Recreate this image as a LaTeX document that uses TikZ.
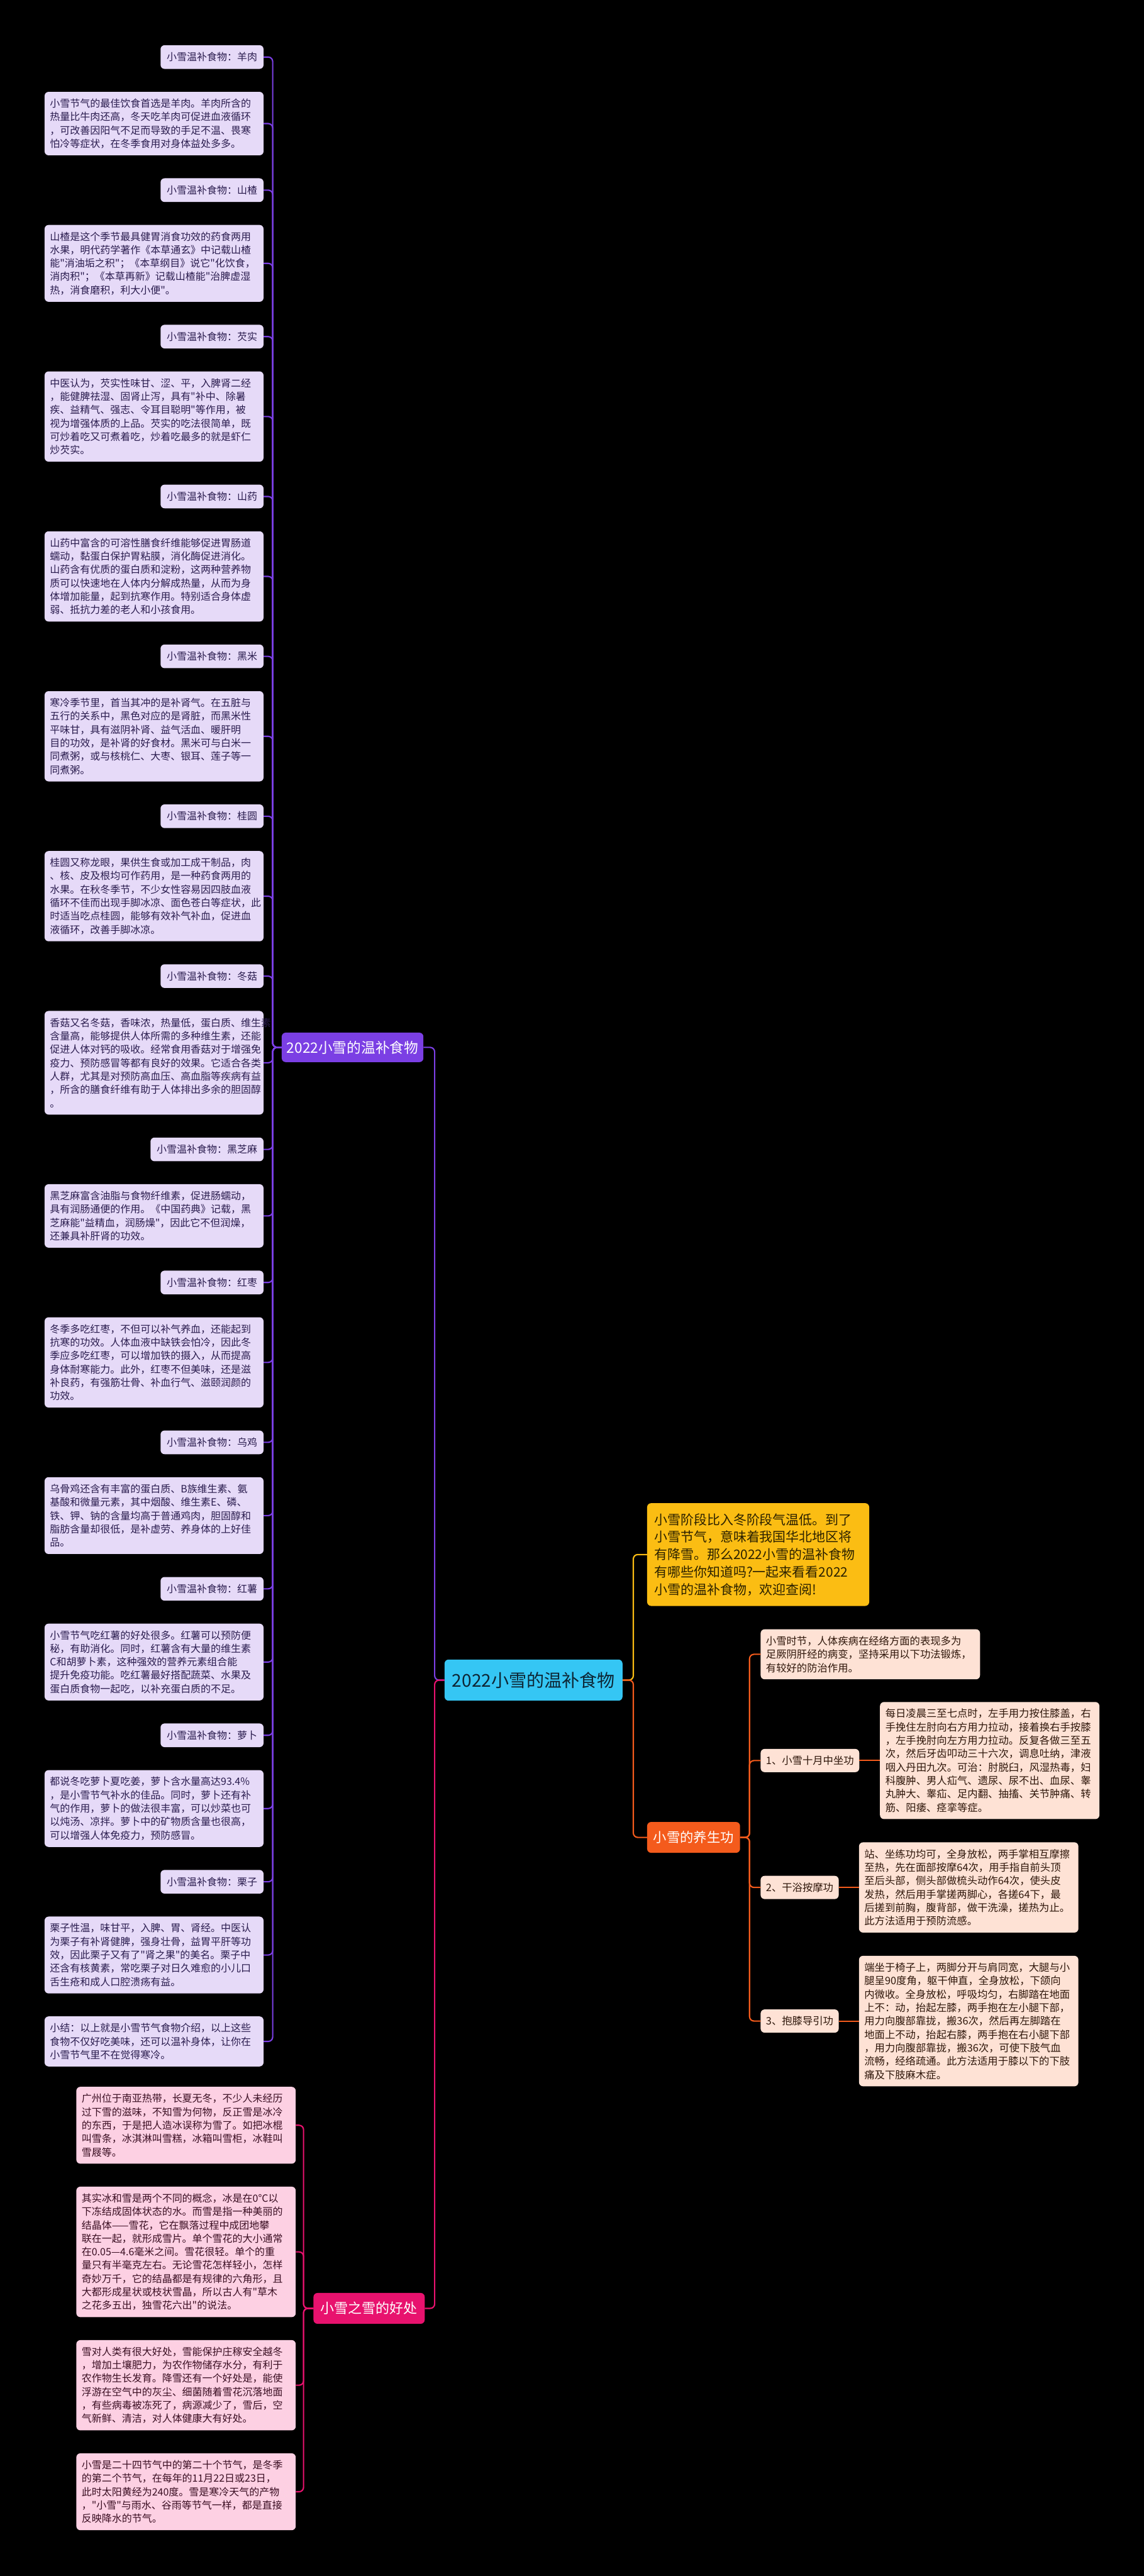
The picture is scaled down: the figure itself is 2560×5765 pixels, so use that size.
\documentclass[tikz,border=0pt]{standalone}
\usepackage{fontspec}
\newfontfamily\cjk{Noto Sans CJK SC}
\usetikzlibrary{positioning}
\definecolor{purplec}{HTML}{7B3FE4}
\definecolor{lavender}{HTML}{E6DAF8}
\definecolor{lavtext}{HTML}{2A1C4E}
\definecolor{pinkc}{HTML}{E8126E}
\definecolor{pinkbox}{HTML}{FDD0E3}
\definecolor{pinktext}{HTML}{3A0E22}
\definecolor{cyanc}{HTML}{35C6F4}
\definecolor{cyantext}{HTML}{0D2635}
\definecolor{amber}{HTML}{FBBD13}
\definecolor{ambertext}{HTML}{2B2100}
\definecolor{orangec}{HTML}{F45B1C}
\definecolor{peach}{HTML}{FEE2D5}
\definecolor{peachtext}{HTML}{2E160A}
\begin{document}
\begin{tikzpicture}[x=1pt, y=-1pt,
  box/.style={rounded corners=9pt, inner xsep=12pt, inner ysep=4pt},
  small/.style={font=\cjk\fontsize{22.5}{30}\selectfont},
  foodtag/.style={box, small, fill=lavender, text=lavtext, minimum height=53pt, inner xsep=14pt},
  fooddesc/.style={box, small, fill=lavender, text=lavtext, text width=466pt, align=left, minimum height={#1*30pt+22pt}},
  snowdesc/.style={box, small, fill=pinkbox, text=pinktext, text width=467pt, align=left, minimum height={#1*30pt+22pt}},
  gongtag/.style={box, font=\cjk\fontsize{23}{30}\selectfont, fill=peach, text=peachtext, minimum height=52pt},
  gongdesc/.style={box, font=\cjk\fontsize{23}{30}\selectfont, fill=peach, text=peachtext, text width=467pt, align=left, minimum height={#1*30pt+22pt}},
  wire/.style={line width=3pt, rounded corners=10pt}]
  \fill[black] (0,0) rectangle (2560,5765);

  \node[box, fill=cyanc, text=cyantext, font=\cjk\fontsize{39.5}{44}\selectfont, minimum height=92pt, inner xsep=17pt] (root) at (1194,3760) {2022小雪的温补食物};
  \node[box, fill=purplec, text=white, font=\cjk\fontsize{32}{36}\selectfont, minimum height=66pt, inner xsep=11pt] (food) at (789,2344) {2022小雪的温补食物};
  \node[box, fill=pinkc, text=white, font=\cjk\fontsize{31}{36}\selectfont, minimum height=69pt, inner xsep=16pt] (snow) at (826,5166) {小雪之雪的好处};
  \node[box, fill=amber, text=ambertext, font=\cjk\fontsize{29.5}{39}\selectfont, text width=465pt, align=left, minimum height=230pt, inner xsep=16pt, anchor=west] (intro) at (1448,3479) {小雪阶段比入冬阶段气温低。到了\\小雪节气，意味着我国华北地区将\\有降雪。那么2022小雪的温补食物\\有哪些你知道吗?一起来看看2022\\小雪的温补食物，欢迎查阅!};
  \node[box, fill=orangec, text=white, font=\cjk\fontsize{30}{36}\selectfont, minimum height=69pt, inner xsep=14pt, anchor=west] (yang) at (1448,4112) {小雪的养生功};

  \node[foodtag, anchor=north east] (l1) at (590,101) {小雪温补食物：羊肉};
  \node[fooddesc=4, below left=51pt and 0pt of l1.south east] (d1) {小雪节气的最佳饮食首选是羊肉。羊肉所含的\\热量比牛肉还高，冬天吃羊肉可促进血液循环\\，可改善因阳气不足而导致的手足不温、畏寒\\怕冷等症状，在冬季食用对身体益处多多。};
  \node[foodtag, below left=51pt and 0pt of d1.south east] (l2) {小雪温补食物：山楂};
  \node[fooddesc=5, below left=51pt and 0pt of l2.south east] (d2) {山楂是这个季节最具健胃消食功效的药食两用\\水果，明代药学著作《本草通玄》中记载山楂\\能"消油垢之积"；《本草纲目》说它"化饮食，\\消肉积"；《本草再新》记载山楂能"治脾虚湿\\热，消食磨积，利大小便"。};
  \node[foodtag, below left=51pt and 0pt of d2.south east] (l3) {小雪温补食物：芡实};
  \node[fooddesc=6, below left=51pt and 0pt of l3.south east] (d3) {中医认为，芡实性味甘、涩、平，入脾肾二经\\，能健脾祛湿、固肾止泻，具有"补中、除暑\\疾、益精气、强志、令耳目聪明"等作用，被\\视为增强体质的上品。芡实的吃法很简单，既\\可炒着吃又可煮着吃，炒着吃最多的就是虾仁\\炒芡实。};
  \node[foodtag, below left=51pt and 0pt of d3.south east] (l4) {小雪温补食物：山药};
  \node[fooddesc=6, below left=51pt and 0pt of l4.south east] (d4) {山药中富含的可溶性膳食纤维能够促进胃肠道\\蠕动，黏蛋白保护胃粘膜，消化酶促进消化。\\山药含有优质的蛋白质和淀粉，这两种营养物\\质可以快速地在人体内分解成热量，从而为身\\体增加能量，起到抗寒作用。特别适合身体虚\\弱、抵抗力差的老人和小孩食用。};
  \node[foodtag, below left=51pt and 0pt of d4.south east] (l5) {小雪温补食物：黑米};
  \node[fooddesc=6, below left=51pt and 0pt of l5.south east] (d5) {寒冷季节里，首当其冲的是补肾气。在五脏与\\五行的关系中，黑色对应的是肾脏，而黑米性\\平味甘，具有滋阴补肾、益气活血、暖肝明\\目的功效，是补肾的好食材。黑米可与白米一\\同煮粥，或与核桃仁、大枣、银耳、莲子等一\\同煮粥。};
  \node[foodtag, below left=51pt and 0pt of d5.south east] (l6) {小雪温补食物：桂圆};
  \node[fooddesc=6, below left=51pt and 0pt of l6.south east] (d6) {桂圆又称龙眼，果供生食或加工成干制品，肉\\、核、皮及根均可作药用，是一种药食两用的\\水果。在秋冬季节，不少女性容易因四肢血液\\循环不佳而出现手脚冰凉、面色苍白等症状，此\\时适当吃点桂圆，能够有效补气补血，促进血\\液循环，改善手脚冰凉。};
  \node[foodtag, below left=51pt and 0pt of d6.south east] (l7) {小雪温补食物：冬菇};
  \node[fooddesc=7, below left=51pt and 0pt of l7.south east] (d7) {香菇又名冬菇，香味浓，热量低，蛋白质、维生素\\含量高，能够提供人体所需的多种维生素，还能\\促进人体对钙的吸收。经常食用香菇对于增强免\\疫力、预防感冒等都有良好的效果。它适合各类\\人群，尤其是对预防高血压、高血脂等疾病有益\\，所含的膳食纤维有助于人体排出多余的胆固醇\\。};
  \node[foodtag, below left=51pt and 0pt of d7.south east] (l8) {小雪温补食物：黑芝麻};
  \node[fooddesc=4, below left=51pt and 0pt of l8.south east] (d8) {黑芝麻富含油脂与食物纤维素，促进肠蠕动，\\具有润肠通便的作用。《中国药典》记载，黑\\芝麻能"益精血，润肠燥"，因此它不但润燥，\\还兼具补肝肾的功效。};
  \node[foodtag, below left=51pt and 0pt of d8.south east] (l9) {小雪温补食物：红枣};
  \node[fooddesc=6, below left=51pt and 0pt of l9.south east] (d9) {冬季多吃红枣，不但可以补气养血，还能起到\\抗寒的功效。人体血液中缺铁会怕冷，因此冬\\季应多吃红枣，可以增加铁的摄入，从而提高\\身体耐寒能力。此外，红枣不但美味，还是滋\\补良药，有强筋壮骨、补血行气、滋颐润颜的\\功效。};
  \node[foodtag, below left=51pt and 0pt of d9.south east] (l10) {小雪温补食物：乌鸡};
  \node[fooddesc=5, below left=51pt and 0pt of l10.south east] (d10) {乌骨鸡还含有丰富的蛋白质、B族维生素、氨\\基酸和微量元素，其中烟酸、维生素E、磷、\\铁、钾、钠的含量均高于普通鸡肉，胆固醇和\\脂肪含量却很低，是补虚劳、养身体的上好佳\\品。};
  \node[foodtag, below left=51pt and 0pt of d10.south east] (l11) {小雪温补食物：红薯};
  \node[fooddesc=5, below left=51pt and 0pt of l11.south east] (d11) {小雪节气吃红薯的好处很多。红薯可以预防便\\秘，有助消化。同时，红薯含有大量的维生素\\C和胡萝卜素，这种强效的营养元素组合能\\提升免疫功能。吃红薯最好搭配蔬菜、水果及\\蛋白质食物一起吃，以补充蛋白质的不足。};
  \node[foodtag, below left=51pt and 0pt of d11.south east] (l12) {小雪温补食物：萝卜};
  \node[fooddesc=5, below left=51pt and 0pt of l12.south east] (d12) {都说冬吃萝卜夏吃姜，萝卜含水量高达93.4\%\\，是小雪节气补水的佳品。同时，萝卜还有补\\气的作用，萝卜的做法很丰富，可以炒菜也可\\以炖汤、凉拌。萝卜中的矿物质含量也很高，\\可以增强人体免疫力，预防感冒。};
  \node[foodtag, below left=51pt and 0pt of d12.south east] (l13) {小雪温补食物：栗子};
  \node[fooddesc=5, below left=51pt and 0pt of l13.south east] (d13) {栗子性温，味甘平，入脾、胃、肾经。中医认\\为栗子有补肾健脾，强身壮骨，益胃平肝等功\\效，因此栗子又有了"肾之果"的美名。栗子中\\还含有核黄素，常吃栗子对日久难愈的小儿口\\舌生疮和成人口腔溃疡有益。};
  \node[fooddesc=3, below left=51pt and 0pt of d13.south east] (d14) {小结：以上就是小雪节气食物介绍，以上这些\\食物不仅好吃美味，还可以温补身体，让你在\\小雪节气里不在觉得寒冷。};

  \node[snowdesc=5, anchor=north east] (p1) at (662,4670) {广州位于南亚热带，长夏无冬，不少人未经历\\过下雪的滋味，不知雪为何物，反正雪是冰冷\\的东西，于是把人造冰误称为雪了。如把冰棍\\叫雪条，冰淇淋叫雪糕，冰箱叫雪柜，冰鞋叫\\雪屐等。};
  \node[snowdesc=9, below left=51pt and 0pt of p1.south east] (p2) {其实冰和雪是两个不同的概念，冰是在0°C以\\下冻结成固体状态的水。而雪是指一种美丽的\\结晶体——雪花，它在飘落过程中成团地攀\\联在一起，就形成雪片。单个雪花的大小通常\\在0.05—4.6毫米之间。雪花很轻。单个的重\\量只有半毫克左右。无论雪花怎样轻小，怎样\\奇妙万千，它的结晶都是有规律的六角形，且\\大都形成星状或枝状雪晶，所以古人有"草木\\之花多五出，独雪花六出"的说法。};
  \node[snowdesc=6, below left=51pt and 0pt of p2.south east] (p3) {雪对人类有很大好处，雪能保护庄稼安全越冬\\，增加土壤肥力，为农作物储存水分，有利于\\农作物生长发育。降雪还有一个好处是，能使\\浮游在空气中的灰尘、细菌随着雪花沉落地面\\，有些病毒被冻死了，病源减少了，雪后，空\\气新鲜、清洁，对人体健康大有好处。};
  \node[snowdesc=5, below left=51pt and 0pt of p3.south east] (p4) {小雪是二十四节气中的第二十个节气，是冬季\\的第二个节气，在每年的11月22日或23日，\\此时太阳黄经为240度。雪是寒冷天气的产物\\，"小雪"与雨水、谷雨等节气一样，都是直接\\反映降水的节气。};

  \node[gongdesc=3, anchor=north west] (g0) at (1702,3646) {小雪时节，人体疾病在经络方面的表现多为\\足厥阴肝经的病变，坚持采用以下功法锻炼，\\有较好的防治作用。};
  \node[gongtag, anchor=west] (k1) at (1702,3940) {1、小雪十月中坐功};
  \node[gongdesc=8, right=46pt of k1] (k1d) {每日凌晨三至七点时，左手用力按住膝盖，右\\手挽住左肘向右方用力拉动，接着换右手按膝\\，左手挽肘向左方用力拉动。反复各做三至五\\次，然后牙齿叩动三十六次，调息吐纳，津液\\咽入丹田九次。可治：肘脱臼，风湿热毒，妇\\科腹肿、男人疝气、遗尿、尿不出、血尿、睾\\丸肿大、睾疝、足内翻、抽搐、关节肿痛、转\\筋、阳痿、痉挛等症。};
  \node[gongtag, anchor=west] (k2) at (1702,4224) {2、干浴按摩功};
  \node[gongdesc=6, right=45pt of k2] (k2d) {站、坐练功均可，全身放松，两手掌相互摩擦\\至热，先在面部按摩64次，用手指自前头顶\\至后头部，侧头部做梳头动作64次，使头皮\\发热，然后用手掌搓两脚心，各搓64下，最\\后搓到前胸，腹背部，做干洗澡，搓热为止。\\此方法适用于预防流感。};
  \node[gongtag, anchor=west] (k3) at (1702,4523) {3、抱膝导引功};
  \node[gongdesc=9, right=45pt of k3] (k3d) {端坐于椅子上，两脚分开与肩同宽，大腿与小\\腿呈90度角，躯干伸直，全身放松，下颌向\\内微收。全身放松，呼吸均匀，右脚踏在地面\\上不：动，抬起左膝，两手抱在左小腿下部，\\用力向腹部靠拢，搬36次，然后再左脚踏在\\地面上不动，抬起右膝，两手抱在右小腿下部\\，用力向腹部靠拢，搬36次，可使下肢气血\\流畅，经络疏通。此方法适用于膝以下的下肢\\痛及下肢麻木症。};

  \draw[wire, purplec] (root.west) -- ++(-22,0) |- (food.east);
  \draw[wire, pinkc] (root.west) -- ++(-22,0) |- (snow.east);
  \draw[wire, amber] (root.east) -- ++(24,0) |- (intro.west);
  \draw[wire, orangec] (root.east) -- ++(24,0) |- (yang.west);
  \foreach \n in {l1,d1,l2,d2,l3,d3,l4,d4,l5,d5,l6,d6,l7,d7,l8,d8,l9,d9,l10,d10,l11,d11,l12,d12,l13,d13,d14}
    \draw[wire, purplec] (food.west) -- ++(-20,0) |- (\n.east);
  \foreach \n in {p1,p2,p3,p4}
    \draw[wire, pinkc] (snow.west) -- ++(-22,0) |- (\n.east);
  \foreach \n in {g0,k1,k2,k3}
    \draw[wire, orangec] (yang.east) -- ++(21,0) |- (\n.west);
  \draw[wire, orangec] (k1) -- (k1d);
  \draw[wire, orangec] (k2) -- (k2d);
  \draw[wire, orangec] (k3) -- (k3d);
\end{tikzpicture}
\end{document}
